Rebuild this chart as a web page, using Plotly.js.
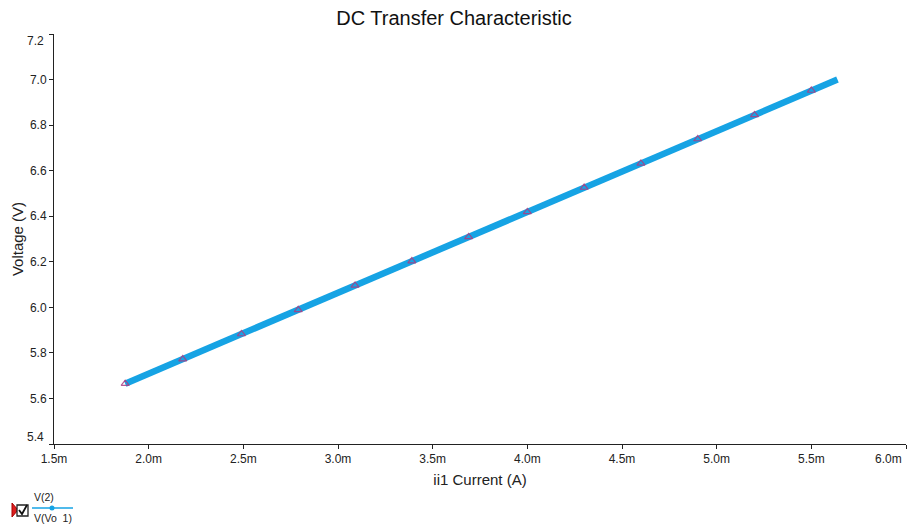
<!DOCTYPE html>
<html>
<head>
<meta charset="utf-8">
<script src="https://cdn.plot.ly/plotly-3.0.1.min.js"></script>
<style>
html,body{margin:0;padding:0;background:#fff;}
#chart{width:908px;height:524px;}
</style>
</head>
<body>
<div id="chart"></div>
<script>
// Data (current in mA, voltage in V)
const currentMA = [1.876, 2.18, 2.49, 2.79, 3.09, 3.39, 3.69, 4.00, 4.30, 4.60, 4.90, 5.20, 5.50, 5.638];
const voltageVo1 = [5.665, 5.773, 5.883, 5.989, 6.096, 6.203, 6.309, 6.419, 6.526, 6.632, 6.739, 6.845, 6.952, 7.000];
const markerCurrentMA = [1.876, 2.18, 2.49, 2.79, 3.09, 3.39, 3.69, 4.00, 4.30, 4.60, 4.90, 5.20, 5.50];
const markerVoltage = [5.665, 5.773, 5.883, 5.989, 6.096, 6.203, 6.309, 6.419, 6.526, 6.632, 6.739, 6.845, 6.952];
const xTickVals = [1.5, 2.0, 2.5, 3.0, 3.5, 4.0, 4.5, 5.0, 5.5, 6.0];
const xTickText = ["1.5m", "2.0m", "2.5m", "3.0m", "3.5m", "4.0m", "4.5m", "5.0m", "5.5m", "6.0m"];
const yTickVals = [5.4, 5.6, 5.8, 6.0, 6.2, 6.4, 6.6, 6.8, 7.0, 7.2];
const yTickText = ["5.4", "5.6", "5.8", "6.0", "6.2", "6.4", "6.6", "6.8", "7.0", "7.2"];
const seriesNames = ["V(2)", "V(Vo  1)"];

const FONT = "Liberation Sans, Arial, sans-serif";
const TICKFONT = {family: FONT, size: 12, color: "#222"};
const W = 908, H = 524;
const L = 54, R = 906, T = 34, B = 444;
const px = x => (x - L) / (R - L);
const py = y => (B - y) / (B - T);

const traces = [
  {
    x: currentMA, y: voltageVo1, name: seriesNames[1],
    mode: "lines", line: {color: "rgb(22,163,228)", width: 6.5},
    hoverinfo: "skip", showlegend: false
  },
  {
    x: markerCurrentMA, y: markerVoltage, name: seriesNames[0],
    mode: "markers",
    marker: {symbol: "triangle-up-open", size: 7, color: "rgba(170,60,130,0.85)", line: {width: 1.2}},
    showlegend: false
  }
];

const nY = yTickText.length;
const yTickTextShown = yTickText.map((t, i) => (i === 0 || i === nY - 1) ? "" : t);
const nX = xTickText.length;
const xTickTextShown = xTickText.map((t, i) => (i === nX - 1) ? "" : t);

const shapes = [
  {type: "path", xref: "paper", yref: "paper",
   path: `M ${px(12)} ${py(503)} L ${px(12)} ${py(517)} L ${px(18)} ${py(510)} Z`,
   fillcolor: "rgb(220,30,30)", line: {color: "rgb(170,0,0)", width: 1}},
  {type: "rect", xref: "paper", yref: "paper",
   x0: px(17), x1: px(28), y0: py(516), y1: py(505),
   fillcolor: "#fff", line: {color: "#222", width: 1.3}},
  {type: "path", xref: "paper", yref: "paper",
   path: `M ${px(19)} ${py(510)} L ${px(22)} ${py(514)} L ${px(27)} ${py(505)}`,
   line: {color: "#111", width: 1.8}},
  {type: "line", xref: "paper", yref: "paper",
   x0: px(32), x1: px(73), y0: py(508), y1: py(508),
   line: {color: "rgb(22,163,228)", width: 1.5}},
  {type: "circle", xref: "paper", yref: "paper",
   x0: px(49.5), x1: px(54.5), y0: py(510.5), y1: py(505.5),
   fillcolor: "rgb(22,163,228)", line: {color: "rgb(22,163,228)", width: 0}}
];

const annotations = [
  {text: seriesNames[0], xref: "paper", yref: "paper", x: px(32), y: py(497),
   xanchor: "left", yanchor: "middle", showarrow: false,
   font: {family: FONT, size: 10.5, color: "#222"}},
  {text: seriesNames[1].replace("  ", "&nbsp;&nbsp;"), xref: "paper", yref: "paper", x: px(32), y: py(518),
   xanchor: "left", yanchor: "middle", showarrow: false,
   font: {family: FONT, size: 10.5, color: "#222"}},
  {text: yTickText[nY - 1], xref: "paper", yref: "paper", x: px(46), y: py(41),
   xanchor: "right", yanchor: "middle", showarrow: false, font: TICKFONT},
  {text: yTickText[0], xref: "paper", yref: "paper", x: px(46), y: py(437),
   xanchor: "right", yanchor: "middle", showarrow: false, font: TICKFONT},
  {text: xTickText[nX - 1], xref: "paper", yref: "paper", x: px(904), y: py(450),
   xanchor: "right", yanchor: "top", showarrow: false, font: TICKFONT}
];

const layout = {
  width: W, height: H,
  paper_bgcolor: "#fff", plot_bgcolor: "#fff",
  margin: {l: L, r: W - R, t: T, b: H - B, pad: 0},
  title: {text: "DC Transfer Characteristic", font: {family: FONT, size: 20, color: "#111"},
          x: 0.5, xref: "container", y: 1 - 18 / H, yanchor: "middle"},
  showlegend: false,
  xaxis: {
    range: [1.5, 6.0], tickvals: xTickVals, ticktext: xTickTextShown,
    showgrid: false, zeroline: false, showline: true, linecolor: "#222", linewidth: 1,
    ticks: "outside", ticklen: 4, tickcolor: "#222",
    tickfont: TICKFONT,
    title: {text: "ii1 Current (A)", font: {family: FONT, size: 15, color: "#222"}, standoff: 9}
  },
  yaxis: {
    range: [5.4, 7.2], tickvals: yTickVals, ticktext: yTickTextShown,
    showgrid: false, zeroline: false, showline: true, linecolor: "#222", linewidth: 1,
    ticks: "outside", ticklen: 4, tickcolor: "#222",
    tickfont: TICKFONT,
    title: {text: "Voltage (V)", font: {family: FONT, size: 15, color: "#222"}, standoff: 2}
  },
  shapes: shapes,
  annotations: annotations
};

Plotly.newPlot("chart", traces, layout, {displayModeBar: false, staticPlot: true});
</script>
</body>
</html>
